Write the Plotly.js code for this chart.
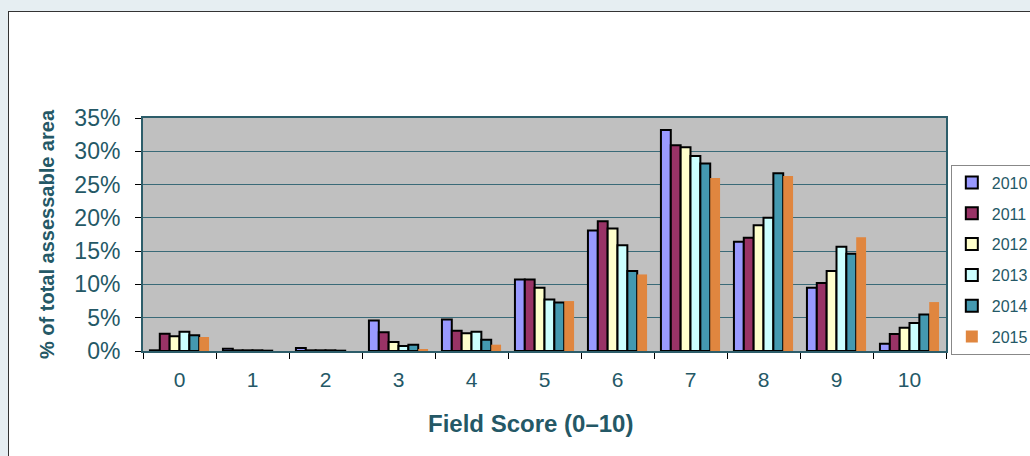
<!DOCTYPE html>
<html>
<head>
<meta charset="utf-8">
<script src="https://cdn.plot.ly/plotly-3.0.1.min.js"></script>
<style>
html,body{margin:0;padding:0;background:#e6eef2;width:1030px;height:456px;overflow:hidden;}
#frame{position:absolute;left:8px;top:11px;width:1100px;height:500px;background:#fff;border:1px solid #333;}
#chart{position:absolute;left:0;top:0;width:1070px;height:456px;}
</style>
</head>
<body>
<div id="frame"></div>
<div id="chart"></div>
<script>
var categories = ["0","1","2","3","4","5","6","7","8","9","10"];
var years = ["2010","2011","2012","2013","2014","2015"];
var v2010 = [0.1, 0.35, 0.45, 4.6, 4.75, 10.75, 18.1, 33.2, 16.4, 9.5, 1.1];
var v2011 = [2.6, 0.1, 0.1, 2.8, 3.05, 10.75, 19.5, 30.9, 17.0, 10.2, 2.55];
var v2012 = [2.2, 0.1, 0.1, 1.35, 2.65, 9.5, 18.4, 30.6, 18.9, 12.0, 3.5];
var v2013 = [2.9, 0.1, 0.1, 0.75, 2.9, 7.75, 15.9, 29.3, 20.0, 15.65, 4.2];
var v2014 = [2.35, 0.05, 0.05, 0.95, 1.7, 7.3, 12.0, 28.15, 26.7, 14.6, 5.5];
var v2015 = [2.1, 0.0, 0.0, 0.3, 0.95, 7.5, 11.5, 26.0, 26.3, 17.1, 7.35];
var series = [v2010, v2011, v2012, v2013, v2014, v2015];
var colors = ["#9999ff", "#993366", "#ffffcc", "#ccffff", "#4499b0", "#e0863f"];
var lineW = [2, 2, 2, 2, 2, 0];
var xTitle = "Field Score (0–10)";
var yTitle = "% of total assessable area";

var txtColor = "#245866";
var traces = series.map(function(vals, i){
  return {
    type: "bar",
    name: years[i],
    x: categories,
    y: vals,
    legendgroup: "g" + i,
    marker: {color: colors[i], line: {color: "#000", width: lineW[i]}},
    hoverinfo: "name+y"
  };
});

var layout = {
  width: 1070, height: 456,
  margin: {l: 143, r: 124, t: 118, b: 105},
  paper_bgcolor: "rgba(0,0,0,0)",
  plot_bgcolor: "#c0c0c0",
  barmode: "group",
  bargap: 0.19,
  bargroupgap: 0,
  font: {family: "Liberation Sans, Arial, sans-serif", color: txtColor},
  showlegend: true,
  legend: {
    x: 1.006, y: 0.80, xanchor: "left", yanchor: "top",
    bgcolor: "#fff", bordercolor: "#888", borderwidth: 1,
    font: {size: 16, color: txtColor},
    traceorder: "grouped", tracegroupgap: 7
  },
  xaxis: {
    type: "category",
    tickson: "boundaries",
    ticks: "outside", ticklen: 6, tickcolor: "#000", tickwidth: 1,
    ticklabelstandoff: 9,
    tickfont: {size: 21, color: txtColor},
    showline: true, linecolor: "#2d5d6a", linewidth: 2, mirror: true,
    showgrid: false, zeroline: false
  },
  yaxis: {
    range: [0, 35], dtick: 5, ticksuffix: "%",
    ticks: "outside", ticklen: 6, tickcolor: "#000", tickwidth: 1,
    ticklabelstandoff: 10,
    tickfont: {size: 23, color: txtColor},
    showline: true, linecolor: "#2d5d6a", linewidth: 2, mirror: true,
    showgrid: true, gridcolor: "#3a6a78", gridwidth: 1,
    zeroline: false,
    title: {text: "<b>" + yTitle + "</b>", font: {size: 20, color: txtColor}, standoff: 14}
  },
  annotations: [{
    text: "<b>" + xTitle + "</b>", xref: "paper", yref: "paper",
    x: 0.482, y: -0.31, xanchor: "center", yanchor: "middle",
    showarrow: false, font: {size: 24, color: txtColor}
  }]
};

Plotly.newPlot("chart", traces, layout, {displayModeBar: false, staticPlot: true});
</script>
</body>
</html>
